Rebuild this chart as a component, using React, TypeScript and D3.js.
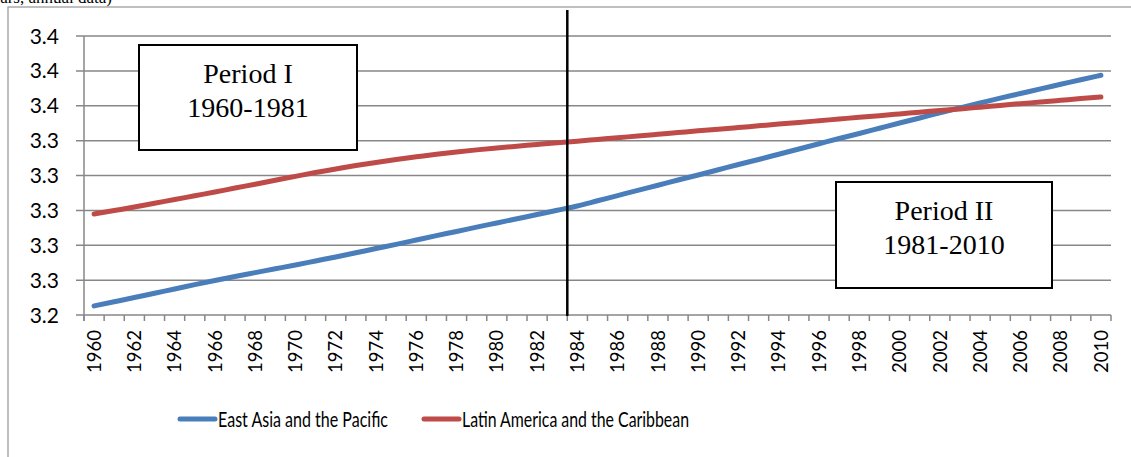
import React from "react";
import * as d3 from "d3";

// years on the category axis
const years: number[] = d3.range(1960, 2011);

// East Asia and the Pacific
const eastAsia: number[] = [
  3.2452, 3.2476, 3.2500, 3.2525, 3.2549, 3.2574, 3.2598, 3.2621, 3.2643, 3.2665,
  3.2687, 3.2710, 3.2733, 3.2757, 3.2781, 3.2805, 3.2830, 3.2855, 3.2879, 3.2904,
  3.2928, 3.2952, 3.2976, 3.3001, 3.3025, 3.3055, 3.3085, 3.3115, 3.3144, 3.3174,
  3.3203, 3.3233, 3.3263, 3.3292, 3.3322, 3.3352, 3.3382, 3.3412, 3.3441, 3.3471,
  3.3501, 3.3530, 3.3560, 3.3588, 3.3616, 3.3644, 3.3670, 3.3697, 3.3723, 3.3749,
  3.3775,
];

// Latin America and the Caribbean
const latinAmerica: number[] = [
  3.2979, 3.2999, 3.3019, 3.3041, 3.3062, 3.3084, 3.3105, 3.3128, 3.3150, 3.3173,
  3.3195, 3.3217, 3.3237, 3.3257, 3.3275, 3.3292, 3.3307, 3.3322, 3.3335, 3.3347,
  3.3358, 3.3368, 3.3378, 3.3388, 3.3397, 3.3407, 3.3417, 3.3426, 3.3436, 3.3446,
  3.3456, 3.3465, 3.3475, 3.3485, 3.3495, 3.3504, 3.3514, 3.3524, 3.3534, 3.3543,
  3.3553, 3.3563, 3.3573, 3.3582, 3.3592, 3.3602, 3.3612, 3.3621, 3.3631, 3.3641,
  3.3650,
];

const yTicks: number[] = [3.24, 3.26, 3.28, 3.3, 3.32, 3.34, 3.36, 3.38, 3.4];
const seriesNames: string[] = ["East Asia and the Pacific", "Latin America and the Caribbean"];
const periodLabels: string[][] = [["Period I", "1960-1981"], ["Period II", "1981-2010"]];
const splitYear = 1984;

const W = 1131;
const H = 457;
const left = 84;
const right = 1111;
const top = 36;
const bottom = 315;
const colors = ["#4a7ebb", "#be4b48"];
const grid = "#878787";
const axisFont = "Lato, 'Open Sans', sans-serif";
const boxFont = "'Liberation Serif', 'Times New Roman', serif";

export default function App() {
  const x = d3.scaleBand<number>().domain(years).range([left, right]).padding(0);
  const y = d3.scaleLinear().domain([3.24, 3.4]).range([bottom, top]);
  const fmt = d3.format(".1f");
  const cx = (yr: number) => (x(yr) ?? 0) + x.bandwidth() / 2;

  const line = d3
    .line<number>()
    .x((_, i) => cx(years[i]))
    .y((d) => y(d))
    .curve(d3.curveMonotoneX);

  const boundaries = years.map((yr) => x(yr) ?? 0).concat([right]);
  const splitX = x(splitYear) ?? 0;

  const boxes = [
    { x: 139, y: 45, w: 218, h: 105 },
    { x: 836, y: 182, w: 216, h: 106 },
  ];
  const legend = [
    { x: 180, len: 170 },
    { x: 424, len: 227 },
  ];

  return (
    <svg
      width={W}
      height={H}
      style={{ position: "absolute", left: 0, top: 0, background: "#fff" }}
    >
      <text x={112} y={3} textAnchor="end" fontFamily={boxFont} fontSize={17} fill="#000">
        (years, annual data)
      </text>
      <rect x={8} y={7} width={W} height={H} fill="none" stroke="#9d9d9d" strokeWidth={1.3} />

      {yTicks.map((t) => (
        <g key={t}>
          <line x1={76} x2={right} y1={y(t)} y2={y(t)} stroke={grid} strokeWidth={1.5} />
          <text
            x={59}
            y={y(t)}
            dy="0.36em"
            textAnchor="end"
            fontFamily={axisFont}
            fontSize={21}
            fill="#000"
          >
            {fmt(t)}
          </text>
        </g>
      ))}

      <line x1={left} x2={left} y1={top} y2={bottom + 6} stroke={grid} strokeWidth={1.5} />
      {boundaries.map((b, i) => (
        <line key={i} x1={b} x2={b} y1={bottom} y2={bottom + 6} stroke={grid} strokeWidth={1.5} />
      ))}
      {years
        .filter((yr) => yr % 2 === 0)
        .map((yr) => (
          <text
            key={yr}
            transform={`translate(${cx(yr)},${bottom + 15}) rotate(-90)`}
            dy="0.36em"
            textAnchor="end"
            fontFamily={axisFont}
            fontSize={18.5}
            fill="#000"
          >
            {yr}
          </text>
        ))}

      {[eastAsia, latinAmerica].map((s, i) => (
        <path
          key={i}
          d={line(s) ?? ""}
          fill="none"
          stroke={colors[i]}
          strokeWidth={5}
          strokeLinecap="round"
          strokeLinejoin="round"
        />
      ))}

      <line x1={splitX} x2={splitX} y1={10} y2={316} stroke="#000" strokeWidth={2.5} />

      {boxes.map((b, i) => (
        <g key={i}>
          <rect x={b.x} y={b.y} width={b.w} height={b.h} fill="#fff" stroke="#000" strokeWidth={2} />
          {periodLabels[i].map((t, j) => (
            <text
              key={j}
              x={b.x + b.w / 2}
              y={b.y + 38 + j * 34}
              textAnchor="middle"
              fontFamily={boxFont}
              fontSize={28}
              fill="#000"
            >
              {t}
            </text>
          ))}
        </g>
      ))}

      {seriesNames.map((name, i) => {
        const l = legend[i];
        return (
          <g key={name}>
            <line x1={l.x} x2={l.x + 35} y1={419} y2={419} stroke={colors[i]} strokeWidth={5} strokeLinecap="round" />
            <text
              x={l.x + 38}
              y={426.5}
              fontFamily={axisFont}
              fontSize={21}
              textLength={l.len}
              lengthAdjust="spacingAndGlyphs"
              fill="#000"
            >
              {name}
            </text>
          </g>
        );
      })}
    </svg>
  );
}
